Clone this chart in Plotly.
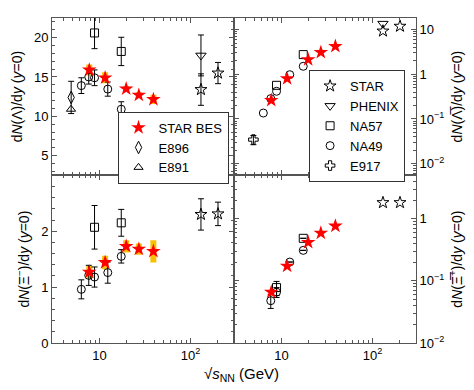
import plotly.graph_objects as go
from plotly.subplots import make_subplots

# collision energy sqrt(s_NN) [GeV]
bes_e = [7.7, 11.5, 19.6, 27, 39]
na57_e = [8.8, 17.3]
na49_e = [6.3, 7.6, 8.8, 12.3, 17.3]
star_e = [130, 200]
phenix_e = [130]
e896_e = [4.87]
e891_e = [4.85]
e917_e = [4.9]

# Lambda
lam_bes = [15.9, 14.9, 13.5, 12.7, 12.15]
lam_bes_sys = [0.7, 0.7, 0.35, 0.35, 0.6]
lam_na57 = [20.6, 18.25]
lam_na57_err = [2.0, 1.8]
lam_na49 = [13.9, 15.0, 14.9, 13.46, 10.9]
lam_na49_err = [1.0, 0.9, 1.0, 0.9, 0.95]
lam_star = [13.4, 15.5]
lam_star_err = [2.0, 1.35]
lam_phenix = [17.74]
lam_phenix_err = [2.6]
lam_e896 = [12.4]
lam_e896_err = [2.05]
lam_e891 = [10.9]

# anti-Lambda
alam_bes = [0.262, 0.80, 2.13, 3.1, 4.23]
alam_na57 = [0.567, 2.76]
alam_na49 = [0.136, 0.286, 0.417, 0.98, 1.51]
alam_star = [9.3, 11.9]
alam_phenix = [13.6]
alam_e917 = [0.0346]
alam_e917_err = [0.008]

# Xi-
xi_bes = [1.27, 1.44, 1.73, 1.68, 1.64]
xi_bes_sys = [0.11, 0.12, 0.11, 0.10, 0.20]
xi_na57 = [2.07, 2.15]
xi_na57_err = [0.39, 0.24]
xi_na49 = [0.96, 1.21, 1.18, 1.26, 1.55]
xi_na49_err = [0.17, 0.18, 0.18, 0.19, 0.12]
xi_star = [2.30, 2.31]
xi_star_err = [0.28, 0.21]

# anti-Xi+
axi_bes = [0.0662, 0.173, 0.418, 0.59, 0.766]
axi_na57 = [0.078, 0.485]
axi_na57_err = [0.02, 0.0]
axi_na49 = [None, 0.048, 0.066, 0.201, 0.31]
axi_na49_err = [0, 0.012, 0.012, 0.0, 0.0]
axi_star = [1.82, 1.82]

FONT = "Liberation Sans, Arial, sans-serif"
AX = '#555'

fig = make_subplots(rows=2, cols=2, shared_xaxes=True,
                    horizontal_spacing=0, vertical_spacing=0,
                    row_heights=[0.484, 0.516])


def add_open(x, y, err, symbol, name, row, col, legend='legend2', show=False, size=8):
    fig.add_trace(go.Scatter(
        x=x, y=y, mode='markers', name=name,
        marker=dict(symbol=symbol, size=size, color='black', line=dict(width=1)),
        error_y=dict(type='data', array=err or [0] * len(x), visible=err is not None,
                     color='black', thickness=1, width=3),
        legend=legend, showlegend=show), row=row, col=col)


def add_sys(y, sys, row, col):
    # yellow systematic boxes drawn as thick error bars
    fig.add_trace(go.Scatter(
        x=bes_e, y=y, mode='markers', marker=dict(size=1, color='rgba(0,0,0,0)'),
        error_y=dict(type='data', array=sys, color='#f7c000', thickness=6, width=0),
        showlegend=False, hoverinfo='skip'), row=row, col=col)


def add_bes(y, row, col, show=False):
    fig.add_trace(go.Scatter(
        x=bes_e, y=y, mode='markers', name='STAR BES',
        marker=dict(symbol='star', size=11, color='red', line=dict(width=0)),
        legend='legend', showlegend=show), row=row, col=col)


# top-left: Lambda
add_sys(lam_bes, lam_bes_sys, 1, 1)
add_open(star_e, lam_star, lam_star_err, 'star-open', 'STAR', 1, 1, show=True, size=9)
add_open(phenix_e, lam_phenix, lam_phenix_err, 'triangle-down-open', 'PHENIX', 1, 1, show=True, size=9)
add_open(na57_e, lam_na57, lam_na57_err, 'square-open', 'NA57', 1, 1, show=True)
add_open(na49_e, lam_na49, lam_na49_err, 'circle-open', 'NA49', 1, 1, show=True)
add_open(e917_e, [None], None, 'cross-open', 'E917', 1, 1, show=True)
add_bes(lam_bes, 1, 1, show=True)
add_open(e896_e, lam_e896, lam_e896_err, 'diamond-tall-open', 'E896', 1, 1, 'legend', True, 9)
add_open(e891_e, lam_e891, None, 'triangle-up-open', 'E891', 1, 1, 'legend', True)

# top-right: anti-Lambda
add_open(na57_e, alam_na57, None, 'square-open', 'NA57', 1, 2)
add_open(na49_e, alam_na49, None, 'circle-open', 'NA49', 1, 2)
add_open(star_e, alam_star, None, 'star-open', 'STAR', 1, 2, size=9)
add_open(phenix_e, alam_phenix, None, 'triangle-down-open', 'PHENIX', 1, 2, size=9)
add_open(e917_e, alam_e917, alam_e917_err, 'cross-open', 'E917', 1, 2)
add_bes(alam_bes, 1, 2)

# bottom-left: Xi-
add_sys(xi_bes, xi_bes_sys, 2, 1)
add_open(na57_e, xi_na57, xi_na57_err, 'square-open', 'NA57', 2, 1)
add_open(na49_e, xi_na49, xi_na49_err, 'circle-open', 'NA49', 2, 1)
add_open(star_e, xi_star, xi_star_err, 'star-open', 'STAR', 2, 1, size=9)
add_bes(xi_bes, 2, 1)

# bottom-right: anti-Xi+
add_open(na57_e, axi_na57, axi_na57_err, 'square-open', 'NA57', 2, 2)
add_open(na49_e, axi_na49, axi_na49_err, 'circle-open', 'NA49', 2, 2)
add_open(star_e, axi_star, None, 'star-open', 'STAR', 2, 2, size=9)
add_bes(axi_bes, 2, 2)

axis_common = dict(showline=True, linecolor=AX, linewidth=1, mirror='ticks',
                   ticks='inside', ticklen=5, tickcolor=AX, showgrid=False,
                   zeroline=False, tickfont=dict(size=13, family=FONT, color='black'))
xlog = dict(type='log', range=[0.477, 2.477], tickvals=[10, 100],
            ticktext=['10', '10<sup>2</sup>'],
            minor=dict(ticks='inside', ticklen=3, tickcolor=AX,
                       tickvals=[4, 5, 6, 7, 8, 9, 20, 30, 40, 50, 60, 70, 80, 90, 200, 300]))
for ax in ['xaxis', 'xaxis2', 'xaxis3', 'xaxis4']:
    fig.update_layout({ax: dict(**axis_common, **xlog)})
fig.update_layout(xaxis=dict(showticklabels=False), xaxis2=dict(showticklabels=False))


def log_minor(powers):
    return [k * 10 ** p for p in powers for k in range(2, 10)]


title_font = dict(size=14, family=FONT, color='black')
fig.update_layout(
    yaxis=dict(**axis_common, range=[2.5, 22.5], tickvals=[5, 10, 15, 20],
               minor=dict(ticks='inside', ticklen=3, tickcolor=AX, dtick=1),
               title=dict(text='d<i>N</i>(Λ)/d<i>y</i> (<i>y</i>=0)', font=title_font, standoff=8)),
    yaxis3=dict(**axis_common, range=[0, 3.0], tickvals=[0, 1, 2],
                minor=dict(ticks='inside', ticklen=3, tickcolor=AX, dtick=0.2),
                title=dict(text='d<i>N</i>(Ξ<sup>−</sup>)/d<i>y</i> (<i>y</i>=0)', font=title_font, standoff=8)),
    yaxis2=dict(**axis_common, type='log', range=[-2.26, 1.26], side='right',
                tickvals=[0.01, 0.1, 1, 10],
                ticktext=['10<sup>−2</sup>', '10<sup>−1</sup>', '1', '10'],
                minor=dict(ticks='inside', ticklen=3, tickcolor=AX, tickvals=log_minor((-3, -2, -1, 0, 1))),
                title=dict(text='d<i>N</i>(Λ̅)/d<i>y</i> (<i>y</i>=0)', font=title_font, standoff=8)),
    yaxis4=dict(**axis_common, type='log', range=[-2, 0.7], side='right',
                tickvals=[0.01, 0.1, 1],
                ticktext=['10<sup>−2</sup>', '10<sup>−1</sup>', '1'],
                minor=dict(ticks='inside', ticklen=3, tickcolor=AX, tickvals=log_minor((-2, -1, 0))),
                title=dict(text='d<i>N</i>(Ξ̅<sup>+</sup>)/d<i>y</i> (<i>y</i>=0)', font=title_font, standoff=8)),
)

legend_common = dict(xref='paper', yref='paper', xanchor='right', yanchor='top',
                     bordercolor='#333', borderwidth=1, bgcolor='white',
                     font=dict(size=13, family=FONT, color='black'),
                     tracegroupgap=0, itemwidth=30)
fig.update_layout(
    legend=dict(**legend_common, x=0.485, y=0.712),
    legend2=dict(**legend_common, x=0.97, y=0.84),
)

fig.add_annotation(text='√<i>s</i><sub>NN</sub> (GeV)', xref='paper', yref='paper',
                   x=0.52, y=-0.063, xanchor='center', yanchor='top', showarrow=False,
                   font=dict(size=15, family=FONT, color='black'))

fig.update_layout(width=474, height=390, margin=dict(l=52, r=52, t=18, b=47),
                  plot_bgcolor='white', paper_bgcolor='white',
                  font=dict(family=FONT, color='black'))

fig.write_html("out.html", config={'displayModeBar': False},
               post_script="document.body.style.margin='0px';")
